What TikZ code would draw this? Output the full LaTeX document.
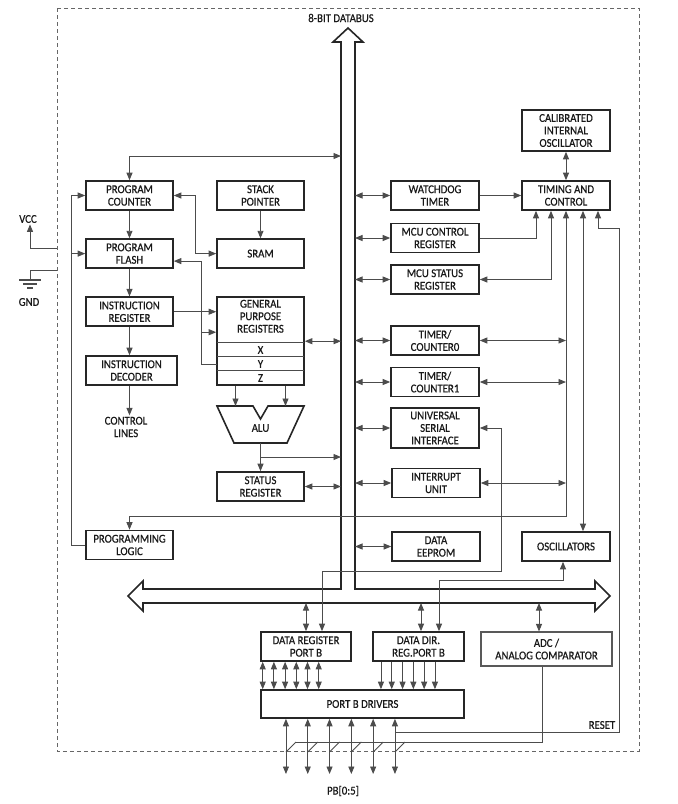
\documentclass[tikz,border=0pt]{standalone}
\usepackage{fontspec}
\setmainfont{Carlito}[FakeStretch=0.9, FakeBold=0.6]
\usetikzlibrary{positioning,arrows.meta}

\begin{document}
\begin{tikzpicture}[
						x=1pt, y=-1pt,
						black!70, line width=0.9pt,
						>={Triangle[length=7.5pt,width=6pt]},
						font=\fontsize{12}{12.5}\selectfont,
						node distance=27.5pt,
						block/.style = {draw=black!85, line width=1.6pt, text=black!90, align=center, inner sep=1pt, minimum width=87pt, minimum height=29pt},
						plain/.style = {text=black!90, align=center, inner sep=1pt},
						outline/.style = {draw=black!85, line width=1.6pt}
					]
					\useasboundingbox (0,0) rectangle (678,804);
					\draw[black!60, line width=0.8pt, dash pattern=on 4pt off 3pt] (57,8) rectangle (639,751);
					\draw[outline] (341,589) -- (143,589) -- (143,581) -- (128,596) -- (143,611) -- (143,603) -- (595,603) -- (595,611) -- (610,596) -- (595,581) -- (595,589) -- (355,589) -- (355,42) -- (363,42) -- (348,28) -- (333,42) -- (341,42) -- cycle;
					\coordinate (busL) at (341,156);
					\coordinate (busR) at (355,156);
					\coordinate (busB) at (348,603);
					\node[plain] (dbus) at (341,18) {8-BIT DATABUS};
					\node[block] (pc) at (129.5,195.5) {PROGRAM\\COUNTER};
					\node[block] (sp) at (260.5,195.5) {STACK\\POINTER};
					\node[block, below=of pc] (flash) {PROGRAM\\FLASH};
					\node[block, below=of sp] (sram) {SRAM};
					\node[block, below=of flash] (ir) {INSTRUCTION\\REGISTER};
					\node[block, minimum width=91pt] (id) at (131.5,370.5) {INSTRUCTION\\DECODER};
					\node[plain] (cl) at (126,427) {CONTROL\\LINES};
					\node[block, minimum height=88pt, below=of sram] (gpr) {};
					\node[plain, below=2pt of gpr.north] (gprtext) {GENERAL\\PURPOSE\\REGISTERS};
					\foreach \r/\t [count=\k] in {rx/X,ry/Y,rz/Z} {
						\node[plain, inner sep=0pt, minimum width=87pt, minimum height=14pt] (\r) at (260.5,336+14*\k) {\t};
						\draw (\r.north west) -- (\r.north east);
					}
					\draw[outline] (217,406) -- (253,406) -- (260.5,419) -- (268,406) -- (304,406) -- (287,443) -- (234,443) -- cycle;
					\node[plain] (alu) at (260.5,428) {ALU};
					\coordinate (alut) at (260.5,406);
					\coordinate (alub) at (260.5,443);
					\node[block] (sr) at (260.5,486.5) {STATUS\\REGISTER};
					\node[block] (pl) at (129.5,545) {PROGRAMMING\\LOGIC};
					\node[block, minimum width=88pt] (wdt) at (435,195.5) {WATCHDOG\\TIMER};
					\node[block, minimum width=88pt] (mcucr) at (435,238) {MCU CONTROL\\REGISTER};
					\node[block, minimum width=88pt] (mcusr) at (435,279.5) {MCU STATUS\\REGISTER};
					\node[block, minimum width=88pt] (tc0) at (435,340.5) {TIMER/\\COUNTER0};
					\node[block, minimum width=88pt] (tc1) at (435,382) {TIMER/\\COUNTER1};
					\node[block, minimum width=88pt, minimum height=40pt] (usi) at (435,428) {UNIVERSAL\\SERIAL\\INTERFACE};
					\node[block, minimum width=88pt] (intu) at (436,483) {INTERRUPT\\UNIT};
					\node[block, minimum width=88pt] (eeprom) at (436,546.5) {DATA\\EEPROM};
					\node[block, minimum width=88pt, minimum height=41pt] (cio) at (566,130.5) {CALIBRATED\\INTERNAL\\OSCILLATOR};
					\node[block, minimum width=88pt] (tc) at (566,195.5) {TIMING AND\\CONTROL};
					\node[block, minimum width=88pt] (osc) at (566,546.5) {OSCILLATORS};
					\node[block, minimum width=90pt] (drpb) at (306,646.5) {DATA REGISTER\\PORT B};
					\node[block, minimum width=91pt] (ddrpb) at (418.5,646.5) {DATA DIR.\\REG.PORT B};
					\node[block, draw=black!65, line width=1.1pt, minimum width=131pt, minimum height=34pt] (adc) at (546.5,649) {ADC /\\ANALOG COMPARATOR};
					\node[block, minimum width=203pt, minimum height=28pt] (pbd) at (362.5,704) {PORT B DRIVERS};
					\node[plain] (vcc) at (28,219) {VCC};
					\node[plain] (gnd) at (29,302) {GND};
					\node[plain] (rst) at (602,725) {RESET};
					\node[plain] (pbl) at (343,791) {PB[0:5]};
					\coordinate (vccp) at (57,248);
					\coordinate (gndp) at (57,270);
					\coordinate (gndc) at (30,280);
					\coordinate (tcline) at (0,516);
					\coordinate (pbend) at (0,774);
					\coordinate (slash) at (0,752);
					\coordinate (adcl) at (0,742);
					\coordinate (rstc) at (619,732);
					\coordinate (rstt) at (619,228);
					\draw[->] (vccp) -| ([xshift=2pt]vcc.south);
					\draw (gndp) -| (gndc);
					\draw[line width=1.2pt] ([xshift=-11pt]gndc) -- ([xshift=11pt]gndc);
					\draw[line width=1.2pt] ([xshift=-7pt,yshift=-4pt]gndc) -- ++(14pt,0);
					\draw[line width=1.2pt] ([xshift=-3pt,yshift=-8pt]gndc) -- ++(6pt,0);
					\draw[<->] (pc.north) |- (busL);
					\draw[->] (pc) to (flash);
					\draw[->] (flash) to (ir);
					\draw[->] (ir.south) -- (ir.south |- id.north);
					\draw[->] (ir.south |- id.south) -- (ir.south |- cl.north);
					\draw[->] (sp) to (sram);
					\draw[<->] (pc.east) -- ++(22pt,0) |- (sram.west);
					\draw[->] (ry.west) -- ++(-15pt,0) |- ([yshift=-7.5pt]flash.east);
					\draw[->] ([yshift=9pt]gpr.west) ++(-15pt,0) -- ([yshift=9pt]gpr.west);
					\draw[->] (ir.east) -- (ir.east -| gpr.west);
					\draw[<->] (gpr.east) -- (gpr.east -| busL);
					\draw[->] ([xshift=-25pt]gpr.south) -- ([xshift=-25pt]gpr.south |- alut);
					\draw[->] ([xshift=25pt]gpr.south) -- ([xshift=25pt]gpr.south |- alut);
					\draw[->] (alub) -- (sr.north);
					\draw[->] ([yshift=-14pt]alub) -- ([yshift=-14pt]alub -| busL);
					\draw[<->] (sr.east) -- (sr.east -| busL);
					\draw[->] (pl.west) -- ++(-14pt,0) |- (pc.west);
					\draw[->] (flash.west) ++(-14pt,0) -- (flash.west);
					\draw[<->] (pl.north) -- (pl.north |- tcline) -| (tc.south);
					\foreach \n in {tc0,tc1,intu}
						\draw[<->] (\n.east) -- (\n.east -| tc.south);
					\draw[->] (mcucr.east) -| ([xshift=-30pt]tc.south);
					\draw[<->] (mcusr.east) -| ([xshift=-15pt]tc.south);
					\draw[<->] ([xshift=17pt]tc.south) -- ([xshift=17pt]osc.north);
					\draw[<->] (cio) to (tc);
					\draw[->] (wdt) to (tc);
					\foreach \n in {wdt,mcucr,mcusr,tc0,tc1,usi,intu,eeprom}
						\draw[<->] (\n.west -| busR) -- (\n.west);
					\draw[<->] (usi.east) -- ++(22pt,0) -- ++(0,143) -| ([xshift=16pt]drpb.north);
					\draw[<->] ([xshift=-3pt]osc.south) -- ++(0,19) -| ([xshift=20.5pt]ddrpb.north);
					\draw[<->] (drpb.north |- busB) -- (drpb.north);
					\draw[<->] ([xshift=2.5pt]ddrpb.north |- busB) -- ([xshift=2.5pt]ddrpb.north);
					\draw[<->] ([xshift=-7.5pt]adc.north |- busB) -- ([xshift=-7.5pt]adc.north);
					\foreach \i in {0,...,5} {
						\draw[<->] ([xshift={2.5pt+11.2pt*\i}]drpb.south west) -- ([xshift={2.5pt+11.2pt*\i}]drpb.south west |- pbd.north);
						\draw[->] ([xshift={8.75pt+10.8pt*\i}]ddrpb.south west) -- ([xshift={8.75pt+10.8pt*\i}]ddrpb.south west |- pbd.north);
						\coordinate (pb\i) at ([xshift={25.75pt+21.8pt*\i}]pbd.south west);
						\draw[<->] (pb\i) -- (pb\i |- pbend);
						\draw (pb\i |- slash) -- ++(10,-10);
					}
					\draw ([xshift=-4.5pt]adc.south) |- ([xshift=10pt]pb0 |- adcl);
					\draw[->] (pb5 |- rstc) -- (rstc) -- (rstt) -| ([xshift=32pt]tc.south);
				\end{tikzpicture}
\end{document}
